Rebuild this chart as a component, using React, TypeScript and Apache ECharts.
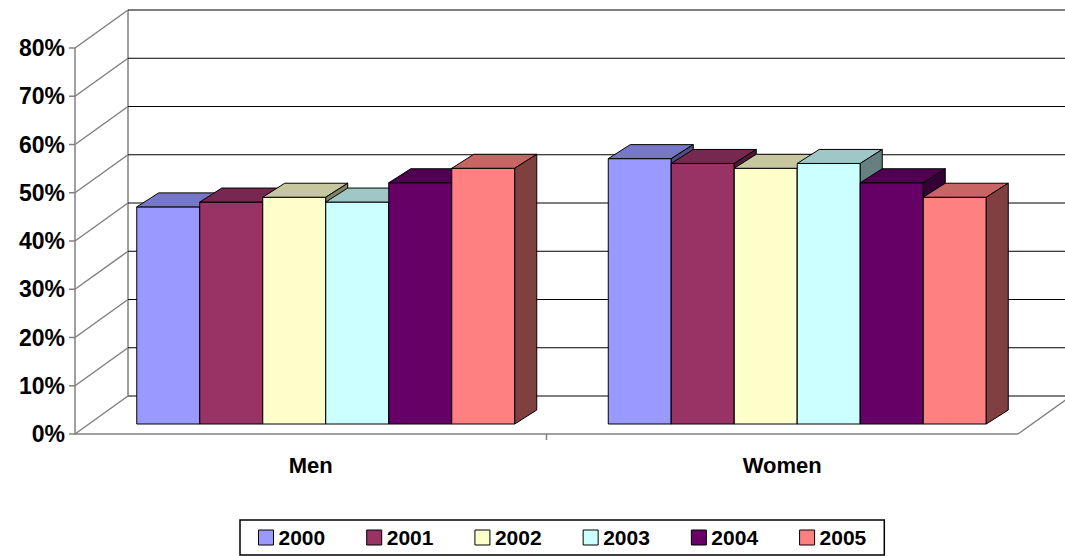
import { useEffect, useRef } from 'react';
import * as echarts from 'echarts';

const categories = ['Men', 'Women'];
const years = ['2000', '2001', '2002', '2003', '2004', '2005'];
const values = [
  [0.45, 0.55],
  [0.46, 0.54],
  [0.47, 0.53],
  [0.46, 0.54],
  [0.5, 0.5],
  [0.53, 0.47],
];
const colors = ['#9999FF', '#993366', '#FFFFCC', '#CCFFFF', '#660066', '#FF8080'];
const ticks = [0, 0.1, 0.2, 0.3, 0.4, 0.5, 0.6, 0.7, 0.8];

const WALL_DX = 53;
const WALL_DY = -38;
const BAR_DX = 15;
const BAR_DY = -10;
const BAR_W = 63;
const DEPTH_X = 22;
const DEPTH_Y = -14;

function shade(hex: string, f: number) {
  const n = parseInt(hex.slice(1), 16);
  const r = Math.round(((n >> 16) & 255) * f);
  const g = Math.round(((n >> 8) & 255) * f);
  const b = Math.round((n & 255) * f);
  return `rgb(${r},${g},${b})`;
}

export default function App() {
  const ref = useRef<HTMLDivElement>(null);

  useEffect(() => {
    if (!ref.current) return;
    const chart = echarts.init(ref.current, null, { renderer: 'svg' });
    const font = '"Liberation Sans", Arial, sans-serif';

    const wallSeries = {
      type: 'custom',
      silent: true,
      z: 1,
      data: ticks.map((t) => [0, t]),
      renderItem: (params: any, api: any) => {
        const v = api.value(1);
        const yf = api.coord([0, v])[1];
        const yb = yf + WALL_DY;
        const left = params.coordSys.x;
        const right = left + params.coordSys.width;
        const gray = { stroke: '#808080', lineWidth: 1.5 };
        const children: any[] = [
          { type: 'line', shape: { x1: left, y1: yf, x2: left + WALL_DX, y2: yb }, style: gray },
          { type: 'line', shape: { x1: left + WALL_DX, y1: yb, x2: 1070, y2: yb }, style: { stroke: '#000', lineWidth: 1 } },
          { type: 'line', shape: { x1: left - 6, y1: yf, x2: left, y2: yf }, style: gray },
        ];
        if (v === 0) {
          const top = api.coord([0, ticks[ticks.length - 1]])[1];
          const mid = left + params.coordSys.width / 2;
          children.push(
            { type: 'line', shape: { x1: left + WALL_DX, y1: yb, x2: left + WALL_DX, y2: top + WALL_DY }, style: gray },
            { type: 'line', shape: { x1: left, y1: yf, x2: left, y2: top }, style: gray },
            { type: 'line', shape: { x1: left, y1: yf, x2: right, y2: yf }, style: gray },
            { type: 'line', shape: { x1: right, y1: yf, x2: right + WALL_DX, y2: yb }, style: gray },
            { type: 'line', shape: { x1: mid, y1: yf, x2: mid, y2: yf + 6 }, style: gray },
          );
        }
        return { type: 'group', children };
      },
    };

    const barSeries = years.map((y, i) => ({
      name: y,
      type: 'custom',
      z: 2,
      itemStyle: { color: colors[i] },
      data: values[i].map((v, c) => [c, v]),
      renderItem: (_p: any, api: any) => {
        const c = api.value(0);
        const v = api.value(1);
        const [cx, y0f] = api.coord([c, 0]);
        const y1f = api.coord([c, v])[1];
        const x = cx + BAR_DX - (BAR_W * years.length) / 2 + i * BAR_W;
        const y0 = y0f + BAR_DY;
        const y1 = y1f + BAR_DY;
        const st = { stroke: '#000', lineWidth: 1 };
        return {
          type: 'group',
          children: [
            { type: 'rect', shape: { x, y: y1, width: BAR_W, height: y0 - y1 }, style: { ...st, fill: colors[i] } },
            {
              type: 'polygon',
              shape: { points: [[x, y1], [x + DEPTH_X, y1 + DEPTH_Y], [x + BAR_W + DEPTH_X, y1 + DEPTH_Y], [x + BAR_W, y1]] },
              style: { ...st, fill: shade(colors[i], 0.78) },
            },
            {
              type: 'polygon',
              shape: { points: [[x + BAR_W, y1], [x + BAR_W + DEPTH_X, y1 + DEPTH_Y], [x + BAR_W + DEPTH_X, y0 + DEPTH_Y], [x + BAR_W, y0]] },
              style: { ...st, fill: shade(colors[i], 0.5) },
            },
          ],
        };
      },
    }));

    chart.setOption({
      animation: false,
      backgroundColor: '#fff',
      grid: { left: 75, right: 47, top: 48, bottom: 122 },
      legend: {
        data: years,
        bottom: 1,
        left: 240,
        itemWidth: 15,
        itemHeight: 15,
        itemGap: 41,
        padding: [7, 18],
        borderColor: '#000',
        borderWidth: 1.5,
        icon: 'rect',
        itemStyle: { borderColor: '#000', borderWidth: 1 },
        textStyle: { fontFamily: font, fontWeight: 'bold', fontSize: 21, color: '#000' },
      },
      xAxis: {
        type: 'category',
        data: categories,
        axisLine: { show: false },
        axisTick: { show: false },
        axisLabel: { margin: 20, fontFamily: font, fontWeight: 'bold', fontSize: 22, color: '#000' },
      },
      yAxis: {
        type: 'value',
        min: 0,
        max: 0.8,
        interval: 0.1,
        splitLine: { show: false },
        axisLine: { show: false },
        axisTick: { show: false },
        axisLabel: {
          margin: 10,
          formatter: (v: number) => `${Math.round(v * 100)}%`,
          fontFamily: font,
          fontWeight: 'bold',
          fontSize: 23,
          color: '#000',
        },
      },
      series: [wallSeries, ...barSeries],
    });
    return () => chart.dispose();
  }, []);

  return <div ref={ref} style={{ position: 'fixed', left: 0, top: 0, width: 1065, height: 556 }} />;
}
